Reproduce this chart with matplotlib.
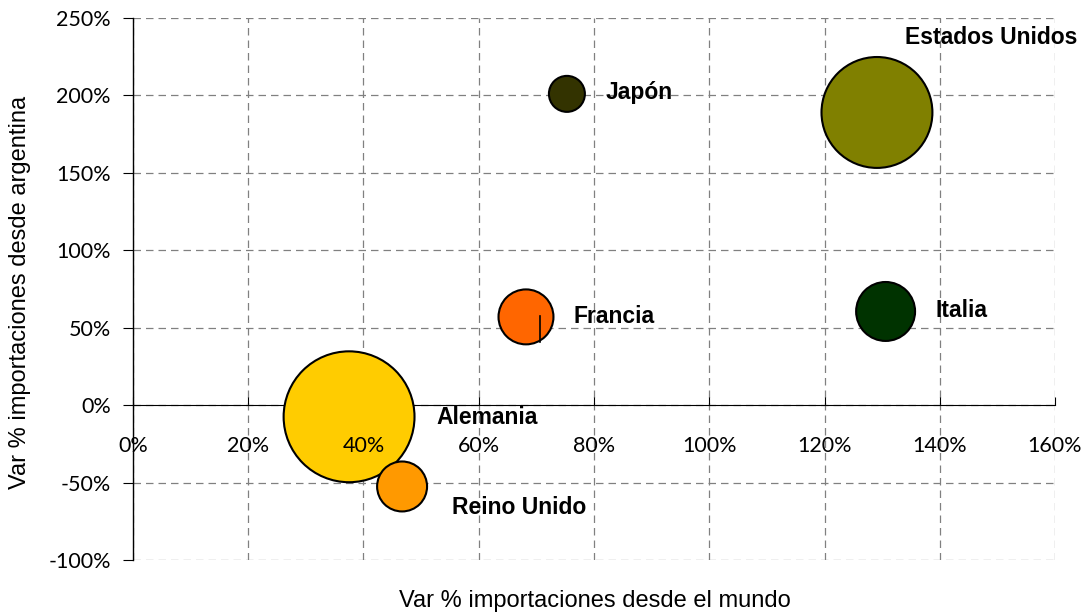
import matplotlib.pyplot as plt
from matplotlib.ticker import FuncFormatter, MultipleLocator

# bubble chart data (percent)
paises = ["Estados Unidos", "Japón", "Francia", "Italia", "Alemania", "Reino Unido"]
var_mundo = [129.1, 75.3, 68.2, 130.6, 37.5, 46.7]
var_argentina = [189.0, 201.0, 57.0, 60.5, -7.5, -52.5]
tamano = [3080, 324, 756, 870, 4290, 625]
colores = ["#808000", "#333300", "#FF6600", "#003300", "#FFCC00", "#FF9900"]
x_ticks = [0, 20, 40, 60, 80, 100, 120, 140, 160]

# label offsets in pixels (dx from center, dy from center)
offsets = {
    "Estados Unidos": (28, 75),
    "Japón": (39, 1),
    "Francia": (48, 0),
    "Italia": (50, 1),
    "Alemania": (87, -1),
    "Reino Unido": (50, -21),
}

fig = plt.figure(figsize=(10.88, 6.14), dpi=100)
ax = fig.add_axes([0.1222, 0.0879, 0.8475, 0.8828])

ax.set_xlim(0, 160)
ax.set_ylim(-100, 250)
ax.set_xticks(x_ticks)
ax.yaxis.set_major_locator(MultipleLocator(50))
pct = FuncFormatter(lambda v, p: f"{v:.0f}%")
ax.yaxis.set_major_formatter(pct)

ax.grid(True, color="#808080", linestyle=(0, (6, 4)), linewidth=0.9)
ax.set_axisbelow(True)

for s in ["top", "right"]:
    ax.spines[s].set_visible(False)
ax.spines["left"].set_color("black")
ax.spines["left"].set_linewidth(1)
# x axis crosses at zero
ax.spines["bottom"].set_position(("data", 0))
ax.spines["bottom"].set_color("black")

ax.tick_params(axis="y", direction="out", length=7, labelsize=15.5, pad=9)
ax.tick_params(axis="x", direction="in", length=6, labelbottom=False)
for lab in ax.get_yticklabels():
    lab.set_family("Lato")

# x tick labels drawn on top of the bubbles (as in the original)
for v in x_ticks:
    ax.annotate(f"{v}%", (v, 0), xytext=(0, -29.5), textcoords="offset points",
                ha="center", va="center", fontsize=15.5, family="Lato",
                zorder=6, annotation_clip=False)

ax.scatter(var_mundo, var_argentina, s=[t * 2.07 for t in tamano], c=colores,
           edgecolors="black", linewidths=1.5, zorder=3, clip_on=False)

# small leader line inside Francia bubble
ax.plot([70.6, 70.6], [57.5, 40.7], color="black", linewidth=1.2, zorder=4)

for p, x, y in zip(paises, var_mundo, var_argentina):
    dx, dy = offsets[p]
    ax.annotate(p, (x, y), xytext=(dx * 0.72, dy * 0.72), textcoords="offset points",
                ha="left", va="center", fontsize=16.5, fontweight="bold",
                family="Liberation Sans", zorder=5)

fig.text(595 / 1088, 1 - 601 / 614, "Var % importaciones desde el mundo",
         fontsize=17, family="Liberation Sans", ha="center", va="center")
fig.text(20 / 1088, 1 - 292 / 614, "Var % importaciones desde argentina",
         fontsize=17, family="Liberation Sans", ha="center", va="center",
         rotation=90)

fig.savefig("out.png", dpi=100)
